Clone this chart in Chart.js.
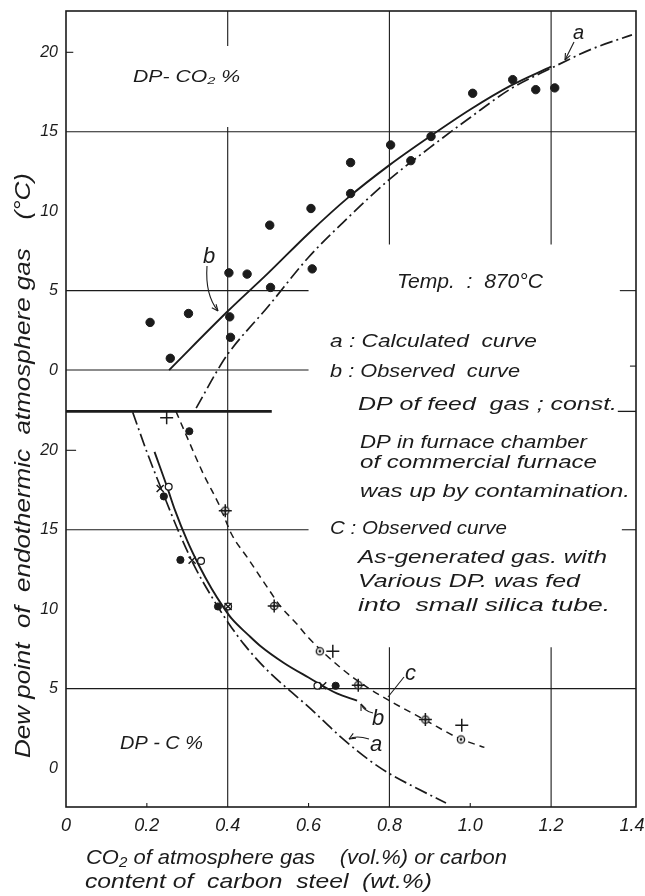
<!DOCTYPE html>
<html>
<head>
<meta charset="utf-8">
<script src="https://cdn.jsdelivr.net/npm/chart.js@4.4.0/dist/chart.umd.min.js"></script>
<style>
html,body{margin:0;padding:0;background:#fff;}
#wrap{position:relative;width:645px;height:896px;}
canvas{display:block;}
</style>
</head>
<body>
<div id="wrap"><canvas id="c" width="645" height="896"></canvas></div>
<script>
// ---------- data ----------
const xTickValues = [0, 0.2, 0.4, 0.6, 0.8, 1.0, 1.2, 1.4];
const xTickLabels = ['0', '0.2', '0.4', '0.6', '0.8', '1.0', '1.2', '1.4'];
const yTickValues = [0, 5, 10, 15, 20];
const yTickLabels = ['0', '5', '10', '15', '20'];

// upper panel: DP - CO2 %
const co2Observed = [0.208, 0.258, 0.303, 0.403, 0.448, 0.405, 0.407, 0.504, 0.506, 0.606, 0.609, 0.704, 0.704, 0.803, 0.853, 0.903, 1.006, 1.105, 1.162, 1.209];
const dpCo2Observed = [3.0, 0.74, 3.56, 6.12, 6.04, 3.35, 2.06, 9.12, 5.2, 10.17, 6.37, 13.06, 11.11, 14.17, 13.18, 14.7, 17.42, 18.28, 17.65, 17.76];
const co2CurveA = [0.322, 0.375, 0.4, 0.5, 0.6, 0.7, 0.8, 0.9, 1.0, 1.1, 1.2, 1.3, 1.4];
const dpCo2CurveA = [-2.4, 0.0, 1.0, 4.0, 7.1, 9.65, 12.0, 14.0, 15.9, 17.7, 19.0, 20.2, 21.1];
const co2CurveB = [0.255, 0.4, 0.5, 0.6, 0.7, 0.8, 0.9, 1.0, 1.1, 1.2];
const dpCo2CurveB = [0.0, 3.7, 6.1, 8.6, 10.9, 12.9, 14.7, 16.4, 17.9, 19.1];

// lower panel: DP - C %
const cDot = [0.305, 0.242, 0.283, 0.376, 0.667];
const dpCDot = [21.2, 17.1, 13.1, 10.17, 5.18];
const cCross = [0.233, 0.312, 0.401, 0.635];
const dpCCross = [17.6, 13.08, 10.17, 5.18];
const cRing = [0.254, 0.334, 0.401, 0.622];
const dpCRing = [17.7, 13.04, 10.17, 5.18];
const cPlus = [0.249, 0.394, 0.515, 0.66, 0.723, 0.889, 0.979];
const dpCPlus = [22.05, 16.2, 10.2, 7.35, 5.22, 3.05, 2.7];
const cDotRing = [0.394, 0.515, 0.628, 0.723, 0.889, 0.977];
const dpCDotRing = [16.2, 10.2, 7.35, 5.22, 3.05, 1.8];

const cCurveA = [0.165, 0.2, 0.24, 0.28, 0.32, 0.36, 0.4, 0.44, 0.5, 0.55, 0.6, 0.68, 0.75, 0.8, 0.87, 0.94];
const dpCCurveA = [22.4, 19.9, 17.3, 14.8, 12.6, 10.8, 9.2, 7.8, 6.1, 4.95, 3.85, 1.95, 0.5, -0.35, -1.3, -2.2];
const cCurveB = [0.219, 0.25, 0.27, 0.3, 0.33, 0.36, 0.39, 0.41, 0.45, 0.48, 0.54, 0.6, 0.67, 0.72];
const dpCCurveB = [19.9, 17.7, 16.2, 14.3, 12.7, 11.3, 10.1, 9.4, 8.4, 7.7, 6.6, 5.7, 4.7, 4.25];
const cCurveC = [0.272, 0.3, 0.34, 0.38, 0.41, 0.45, 0.5, 0.53, 0.57, 0.6, 0.68, 0.75, 0.81, 0.89, 0.97, 1.035];
const dpCCurveC = [22.45, 20.8, 18.5, 16.5, 14.7, 13.2, 11.3, 10.2, 9.1, 8.2, 6.3, 5.0, 4.1, 3.0, 1.9, 1.3];

// ---------- helpers ----------
const INK = '#1b1b1b';
const FONT = '"Liberation Sans", "DejaVu Sans", sans-serif';
const pts = (xs, ys) => xs.map((x, i) => ({x: x, y: ys[i]}));

function dotRingImg(r) {
  const c = document.createElement('canvas');
  const s = Math.ceil(r * 2 + 4);
  c.width = s; c.height = s;
  const g = c.getContext('2d');
  g.strokeStyle = INK; g.lineWidth = 1.4; g.fillStyle = '#fff';
  g.beginPath(); g.arc(s / 2, s / 2, r, 0, Math.PI * 2); g.fill(); g.stroke();
  g.fillStyle = INK;
  g.beginPath(); g.arc(s / 2, s / 2, 1.4, 0, Math.PI * 2); g.fill();
  return c;
}

function curve(xs, ys, axis, dash, width) {
  return {
    data: pts(xs, ys), yAxisID: axis, showLine: true, pointRadius: 0,
    borderColor: INK, borderWidth: width || 1.8, borderDash: dash || [],
    cubicInterpolationMode: 'monotone', fill: false, order: 10
  };
}
function markers(xs, ys, axis, style, radius, fillColor, bw, order) {
  return {
    data: pts(xs, ys), yAxisID: axis, showLine: false,
    pointStyle: style, pointRadius: radius, pointBackgroundColor: fillColor,
    pointBorderColor: INK, pointBorderWidth: bw, order: order
  };
}

function txt(ctx, s, x, y, size, w, rot) {
  ctx.save();
  ctx.font = 'italic ' + size + 'px ' + FONT;
  ctx.fillStyle = INK;
  ctx.textBaseline = 'middle';
  ctx.textAlign = 'left';
  ctx.translate(x, y);
  if (rot) ctx.rotate(rot);
  if (w) { const m = ctx.measureText(s).width; ctx.scale(w / m, 1); }
  ctx.fillText(s, 0, 0);
  ctx.restore();
}

function arrowHead(ctx, x, y, ang) {
  ctx.beginPath();
  ctx.moveTo(x, y);
  ctx.lineTo(x - 7 * Math.cos(ang - 0.4), y - 7 * Math.sin(ang - 0.4));
  ctx.moveTo(x, y);
  ctx.lineTo(x - 7 * Math.cos(ang + 0.4), y - 7 * Math.sin(ang + 0.4));
  ctx.stroke();
}

// gridline segments in value space
const hSegs = [ // axis, y, x1, x2
  ['yU', 15, 0, 1.41], ['yU', 5, 0, 0.6], ['yU', 0, 0, 0.6], ['yU', 20, 0, 0.018],
  ['yU', 5, 1.37, 1.41], ['yU', 0.25, 1.395, 1.41],
  ['yL', 20, 0, 0.025], ['yL', 15, 0, 0.6], ['yL', 15, 1.375, 1.41], ['yL', 5, 0, 1.41]
];
const vSegs = [ // x, axis, y1, y2
  [0.4, 'yU', 20.4, 22.6], [0.4, 'yU', -2.6, 15.3], [0.4, 'yL', -2.45, 22.45],
  [0.8, 'yU', 7.9, 22.6], [1.2, 'yU', 7.9, 22.6],
  [0.8, 'yL', -2.45, 7.6], [1.2, 'yL', -2.45, 7.6],
  [0.2, 'yL', -2.45, -2.2], [0.6, 'yL', -2.45, -2.2], [1.0, 'yL', -2.45, -2.2]
];

const decor = {
  id: 'decor',
  beforeDatasetsDraw(chart) {
    const ctx = chart.ctx, a = chart.chartArea, sx = chart.scales.x;
    ctx.save();
    ctx.strokeStyle = INK;
    ctx.lineWidth = 1.1;
    hSegs.forEach(s => {
      const y = chart.scales[s[0]].getPixelForValue(s[1]);
      ctx.beginPath(); ctx.moveTo(sx.getPixelForValue(s[2]), y); ctx.lineTo(sx.getPixelForValue(s[3]), y); ctx.stroke();
    });
    vSegs.forEach(s => {
      const sc = chart.scales[s[1]], x = sx.getPixelForValue(s[0]);
      ctx.beginPath(); ctx.moveTo(x, sc.getPixelForValue(s[2])); ctx.lineTo(x, sc.getPixelForValue(s[3])); ctx.stroke();
    });
    // frame
    ctx.lineWidth = 1.6;
    ctx.strokeRect(a.left, a.top, a.right - a.left, a.bottom - a.top);
    // separator between the two panels
    const yb = chart.scales.yU.bottom;
    ctx.lineWidth = 2.6;
    ctx.beginPath(); ctx.moveTo(a.left, yb); ctx.lineTo(sx.getPixelForValue(0.509), yb); ctx.stroke();
    ctx.lineWidth = 1.3;
    ctx.beginPath(); ctx.moveTo(sx.getPixelForValue(1.365), yb); ctx.lineTo(a.right, yb); ctx.stroke();
    ctx.restore();
  },
  afterDraw(chart) {
    const ctx = chart.ctx;
    // axis titles
    txt(ctx, 'Dew point  of  endothermic  atmosphere gas    (°C)', 24, 758, 22, 585, -Math.PI / 2);
    txt(ctx, 'CO₂ of atmosphere gas    (vol.%) or carbon', 86, 858, 21, 421);
    txt(ctx, 'content of  carbon  steel  (wt.%)', 85, 882, 21, 347);
    // panel labels
    txt(ctx, 'DP- CO₂ %', 133, 77, 17, 107);
    txt(ctx, 'DP - C %', 120, 744, 19, 83);
    txt(ctx, 'Temp.  :  870°C', 397, 282, 21, 146);
    // legend notes
    txt(ctx, 'a : Calculated  curve', 330, 342, 19, 207);
    txt(ctx, 'b : Observed  curve', 330, 372, 19, 190);
    txt(ctx, 'DP of feed  gas ; const.', 358, 405, 19, 259);
    txt(ctx, 'DP in furnace chamber', 360, 443, 19, 227);
    txt(ctx, 'of commercial furnace', 360, 463, 19, 237);
    txt(ctx, 'was up by contamination.', 360, 492, 19, 270);
    txt(ctx, 'C : Observed curve', 330, 529, 19, 177);
    txt(ctx, 'As-generated gas. with', 358, 558, 19, 249);
    txt(ctx, 'Various DP. was fed', 358, 582, 19, 222);
    txt(ctx, 'into  small silica tube.', 358, 606, 19, 252);
    // curve labels
    txt(ctx, 'a', 573, 33, 20);
    txt(ctx, 'b', 203, 257, 22);
    txt(ctx, 'b', 372, 719, 22);
    txt(ctx, 'a', 370, 745, 22);
    txt(ctx, 'c', 405, 674, 22);
    // arrows / leaders
    ctx.save();
    ctx.strokeStyle = INK; ctx.lineWidth = 1.1;
    ctx.beginPath(); ctx.moveTo(574, 42); ctx.lineTo(565, 60); ctx.stroke();
    arrowHead(ctx, 565, 60, Math.atan2(18, -9));
    ctx.beginPath(); ctx.moveTo(207, 266); ctx.quadraticCurveTo(205, 295, 218, 311); ctx.stroke();
    arrowHead(ctx, 218, 311, Math.atan2(16, 13));
    ctx.beginPath(); ctx.moveTo(373, 713); ctx.quadraticCurveTo(364, 711, 361, 704); ctx.stroke();
    arrowHead(ctx, 361, 704, Math.atan2(-7, -3));
    ctx.beginPath(); ctx.moveTo(369, 739); ctx.quadraticCurveTo(356, 735, 349, 739); ctx.stroke();
    arrowHead(ctx, 349, 739, Math.atan2(4, -7));
    ctx.beginPath(); ctx.moveTo(404, 677); ctx.lineTo(388, 697); ctx.stroke();
    ctx.restore();
  }
};

const tickFontY = {family: FONT, size: 16, style: 'italic'};
const tickFontX = {family: FONT, size: 18, style: 'italic'};
function yAxis(min, max, weight, sw) {
  return {
    type: 'linear', position: 'left', stack: 'dp', stackWeight: sw, weight: weight,
    min: min, max: max,
    afterBuildTicks: s => { s.ticks = yTickValues.map(v => ({value: v})); },
    afterFit: s => { s.width = 66; },
    ticks: {callback: (v, i) => yTickLabels[i], font: tickFontY, color: INK, padding: 0},
    grid: {display: false}, border: {display: false}
  };
}

new Chart(document.getElementById('c'), {
  type: 'scatter',
  data: {
    datasets: [
      markers(co2Observed, dpCo2Observed, 'yU', 'circle', 4.2, INK, 1, 1),
      curve(co2CurveA, dpCo2CurveA, 'yU', [13, 4, 2, 4], 1.7),
      curve(co2CurveB, dpCo2CurveB, 'yU', [], 1.9),
      curve(cCurveA, dpCCurveA, 'yL', [13, 4, 2, 4], 1.7),
      curve(cCurveB, dpCCurveB, 'yL', [], 1.9),
      curve(cCurveC, dpCCurveC, 'yL', [7, 5], 1.5),
      markers(cDot, dpCDot, 'yL', 'circle', 3.6, INK, 1, 2),
      markers(cRing, dpCRing, 'yL', 'circle', 3.4, '#fff', 1.3, 3),
      markers(cCross, dpCCross, 'yL', 'crossRot', 5, INK, 1.5, 2),
      markers(cDotRing, dpCDotRing, 'yL', dotRingImg(3.6), 4, '#fff', 1.3, 4),
      markers(cPlus, dpCPlus, 'yL', 'cross', 6.5, INK, 1.5, 1)
    ]
  },
  options: {
    responsive: false, animation: false, events: [],
    layout: {padding: {top: 11, right: 9, left: 0, bottom: 0}},
    plugins: {legend: {display: false}, tooltip: {enabled: false}},
    scales: {
      x: {
        type: 'linear', position: 'bottom', min: 0, max: 1.41,
        afterBuildTicks: s => { s.ticks = xTickValues.map(v => ({value: v})); },
        afterFit: s => { s.height = 89; },
        ticks: {callback: (v, i) => xTickLabels[i], font: tickFontX, color: INK, padding: 0, maxRotation: 0, autoSkip: false},
        grid: {display: false}, border: {display: false}
      },
      yL: yAxis(-2.45, 22.45, 1, 24.9),
      yU: yAxis(-2.6, 22.6, 2, 25.2)
    }
  },
  plugins: [decor]
});
</script>
</body>
</html>
